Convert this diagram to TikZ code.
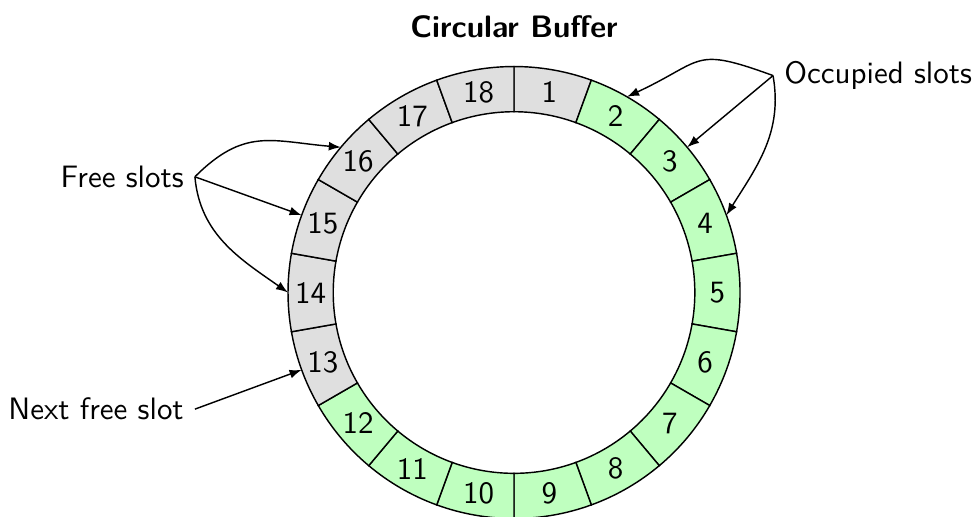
\documentclass[tikz,border=0pt]{standalone}
\usetikzlibrary{arrows.meta}
\colorlet{usedslot}{green!25}
\colorlet{freeslot}{gray!25}
\tikzset{
  slot/.style={draw=black,line width=.45pt},
  pointer/.style={-{Latex[length=3.8pt,width=2.8pt]},draw=black,line width=.45pt},
  every node/.style={font=\sffamily\fontsize{9.75}{11.7}\selectfont}
}
\newcommand{\titlefont}{\sffamily\bfseries\fontsize{9.75}{11.7}\selectfont}

\begin{document}
\begin{tikzpicture}[x=1cm,y=1cm]
  \useasboundingbox (-5.686,-2.483) rectangle (5.066,3.236);

  \node[font=\titlefont] (title) at (0,2.94) {Circular Buffer};

  % ========================== RING OF SLOTS ==========================
  \foreach \i/\col in {1/freeslot,2/usedslot,3/usedslot,4/usedslot,
                       5/usedslot,6/usedslot,7/usedslot,8/usedslot,
                       9/usedslot,10/usedslot,11/usedslot,12/usedslot,
                       13/freeslot,14/freeslot,15/freeslot,16/freeslot,
                       17/freeslot,18/freeslot}{
    \pgfmathsetmacro\a{110-20*\i}
    \pgfmathsetmacro\b{\a-20}
    \pgfmathsetmacro\m{\a-10}
    \filldraw[slot,fill=\col] (\a:2) -- (\a:2.5)
      arc[start angle=\a,end angle=\b,radius=2.5] -- (\b:2)
      arc[start angle=\b,end angle=\a,radius=2] -- cycle;
    \node (n\i) at (\m:2.25) {\i};
    \coordinate (s\i) at (\m:2.5);
  }

  % ============================ CALLOUTS =============================
  \node[anchor=east] (free) at (-3.53,1.28) {Free slots};
  \node[anchor=west] (occ) at (2.865,2.40) {Occupied slots};
  \node[anchor=east] (nextfree) at (-3.53,-1.29) {Next free slot};

  \draw[pointer] (free.east) to[out=45,in=175,looseness=1.2] (s16);
  \draw[pointer] (free.east) -- (s15);
  \draw[pointer] (free.east) to[out=-85,in=145] (s14);

  \draw[pointer] (occ.west) to[out=160,in=25,looseness=1.5] (s2);
  \draw[pointer] (occ.west) -- (s3);
  \draw[pointer] (occ.west) to[out=-80,in=58] (s4);

  \draw[pointer] (nextfree.east) -- (s13);
\end{tikzpicture}
\end{document}
